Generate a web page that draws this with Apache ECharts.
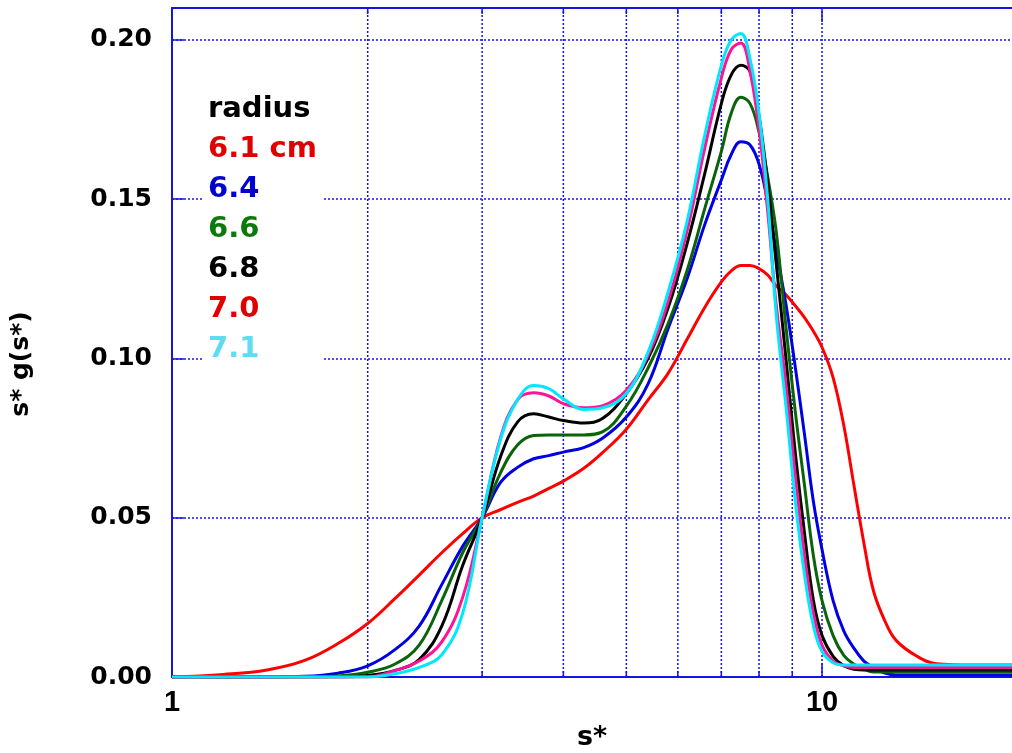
<!DOCTYPE html>
<html><head><meta charset="utf-8">
<script src="https://cdn.jsdelivr.net/npm/echarts@6/dist/echarts.min.js"></script>
<style>html,body{margin:0;padding:0;background:#fff}#c{width:1012px;height:753px}</style>
</head><body><div id="c"></div>
<script>
// s* sample positions (log axis)
const sValues = [1, 1.2, 1.4, 1.6, 1.8, 2, 2.2, 2.4, 2.6, 2.8, 3, 3.2, 3.4, 3.6, 3.8, 4, 4.3, 4.6, 5, 5.4, 5.8, 6.2, 6.6, 7, 7.25, 7.5, 7.75, 8, 8.25, 8.5, 8.8, 9.1, 9.4, 9.7, 10, 10.4, 10.8, 11.2, 11.6, 12, 12.5, 13, 14, 15, 17, 19.6];

const r61 = [0, 0.0008, 0.0022, 0.0052, 0.0105, 0.0168, 0.0245, 0.032, 0.039, 0.045, 0.050, 0.0525, 0.0548, 0.0568, 0.0592, 0.0615, 0.0655, 0.0705, 0.0778, 0.087, 0.0954, 0.106, 0.116, 0.124, 0.1275, 0.1292, 0.1292, 0.1282, 0.1262, 0.1228, 0.120, 0.1165, 0.1128, 0.1085, 0.1035, 0.094, 0.079, 0.060, 0.042, 0.027, 0.0175, 0.0115, 0.0065, 0.0042, 0.0038, 0.0038];
const r64 = [0, 0, 0, 0.0002, 0.0012, 0.0035, 0.0085, 0.016, 0.029, 0.041, 0.050, 0.061, 0.0658, 0.0685, 0.0695, 0.0706, 0.072, 0.075, 0.0816, 0.092, 0.1095, 0.125, 0.142, 0.156, 0.164, 0.168, 0.167, 0.161, 0.149, 0.134, 0.117, 0.097, 0.076, 0.055, 0.040, 0.024, 0.0145, 0.009, 0.005, 0.003, 0.0012, 0.0006, 0.0006, 0.0006, 0.0006, 0.0006];
const r66 = [0, 0, 0, 0, 0.0003, 0.0015, 0.004, 0.010, 0.024, 0.039, 0.050, 0.064, 0.0728, 0.0758, 0.076, 0.076, 0.076, 0.077, 0.085, 0.097, 0.111, 0.1276, 0.147, 0.165, 0.177, 0.182, 0.180, 0.171, 0.157, 0.140, 0.110, 0.083, 0.060, 0.038, 0.024, 0.013, 0.0068, 0.004, 0.0025, 0.0016, 0.0016, 0.0016, 0.0016, 0.0016, 0.0016, 0.0016];
const r68 = [0, 0, 0, 0, 0, 0.0005, 0.002, 0.0055, 0.016, 0.035, 0.050, 0.069, 0.080, 0.0826, 0.0816, 0.0805, 0.0797, 0.0812, 0.089, 0.100, 0.116, 0.136, 0.158, 0.180, 0.189, 0.192, 0.190, 0.176, 0.155, 0.130, 0.100, 0.070, 0.045, 0.024, 0.013, 0.0065, 0.0035, 0.0024, 0.0022, 0.0022, 0.0022, 0.0022, 0.0022, 0.0022, 0.0022, 0.0022];
const r70 = [0, 0, 0, 0, 0, 0, 0.002, 0.005, 0.011, 0.025, 0.050, 0.075, 0.087, 0.0892, 0.0882, 0.0858, 0.0845, 0.0852, 0.090, 0.101, 0.118, 0.140, 0.166, 0.188, 0.197, 0.199, 0.190, 0.172, 0.146, 0.117, 0.092, 0.063, 0.038, 0.020, 0.010, 0.005, 0.0035, 0.003, 0.003, 0.003, 0.003, 0.003, 0.003, 0.003, 0.003, 0.003];
const r71 = [0, 0, 0, 0, 0, 0, 0.001, 0.003, 0.007, 0.020, 0.050, 0.0744, 0.087, 0.0915, 0.0905, 0.0873, 0.0840, 0.0845, 0.089, 0.102, 0.121, 0.143, 0.170, 0.192, 0.200, 0.202, 0.194, 0.177, 0.150, 0.114, 0.085, 0.055, 0.032, 0.016, 0.008, 0.0045, 0.0038, 0.0038, 0.0038, 0.0038, 0.0038, 0.0038, 0.0038, 0.0038, 0.0038, 0.0038];

const seriesNames = ['6.1 cm', '6.4', '6.6', '6.8', '7.0', '7.1'];
const seriesValues = [r61, r64, r66, r68, r70, r71];
const lineColors = ['#ff0000', '#0000e0', '#0a640a', '#000000', '#ff1493', '#00e8ff'];
const labelColors = ['#e00000', '#0000d0', '#0b7a0b', '#000000', '#e00000', '#5edcf2'];
const legendTitle = 'radius';
const yTickValues = [0, 0.05, 0.10, 0.15, 0.20];
const xLabelValues = [1, 10];
const xGridValues = [2, 3, 4, 5, 6, 7, 8, 9, 10];
const X_MIN = 1, X_MAX = 19.6, Y_MIN = 0, Y_MAX = 0.21;

const AX = '#1414e6';
const chart = echarts.init(document.getElementById('c'), null, {renderer: 'canvas'});

const lineSeries = seriesNames.map((n, i) => ({
  name: n, type: 'line', showSymbol: false, symbol: 'none', smooth: 0.4,
  data: sValues.map((s, k) => [s, seriesValues[i][k]]),
  lineStyle: {color: lineColors[i], width: 3}, itemStyle: {color: lineColors[i]},
  z: 3 + i, animation: false
}));

const gridSeries = {
  type: 'custom', silent: true, z: 1, animation: false,
  data: xGridValues.map(v => [v, 0]),
  encode: {x: 0, y: 1},
  renderItem: function (params, api) {
    const v = api.value(0);
    const p0 = api.coord([v, Y_MIN]);
    const p1 = api.coord([v, Y_MAX]);
    const len = v === 10 ? 14 : 6;
    return {type: 'group', children: [
      {type: 'line', shape: {x1: p0[0], y1: p0[1], x2: p1[0], y2: p1[1]}, style: {stroke: AX, lineWidth: 1.5, lineDash: [2, 2]}},
      {type: 'line', shape: {x1: p0[0], y1: p0[1], x2: p0[0], y2: p0[1] - len}, style: {stroke: AX, lineWidth: 1.5}},
      {type: 'line', shape: {x1: p1[0], y1: p1[1], x2: p1[0], y2: p1[1] + len}, style: {stroke: AX, lineWidth: 1.5}}
    ]};
  }
};

const legendTexts = [{t: legendTitle, c: '#000000', y: 109}].concat(
  seriesNames.map((n, i) => ({t: n, c: labelColors[i], y: 149 + i * 40.1})));

const option = {
  backgroundColor: '#ffffff',
  animation: false,
  grid: {left: 172, top: 8, right: 0, bottom: 76, containLabel: false, outerBoundsMode: 'none'},
  xAxis: [{
    type: 'log', logBase: 10, min: X_MIN, max: X_MAX, position: 'bottom',
    axisLine: {show: true, lineStyle: {color: AX, width: 2}},
    axisTick: {show: false},
    splitLine: {show: false},
    axisLabel: {margin: 11, color: '#000', fontFamily: 'Liberation Sans', fontWeight: 'bold', fontSize: 29,
      formatter: v => xLabelValues.some(x => Math.abs(x - v) < 1e-9) ? String(v) : ''},
    name: 's*', nameLocation: 'middle', nameGap: 47,
    nameTextStyle: {color: '#000', fontFamily: 'DejaVu Sans', fontWeight: 'bold', fontSize: 27}
  }, {
    type: 'log', logBase: 10, min: X_MIN, max: X_MAX, position: 'top',
    axisLine: {show: true, lineStyle: {color: AX, width: 2}},
    axisTick: {show: false}, axisLabel: {show: false}, splitLine: {show: false}
  }],
  yAxis: {
    type: 'value', min: Y_MIN, max: Y_MAX, interval: 0.05,
    axisLine: {show: true, lineStyle: {color: AX, width: 2}},
    axisTick: {show: true, inside: true, length: 12, lineStyle: {color: AX, width: 1.5}},
    splitLine: {show: true, lineStyle: {color: AX, width: 1.5, type: [2, 2]}},
    axisLabel: {margin: 20, color: '#000', fontFamily: 'DejaVu Sans', fontWeight: 'bold', fontSize: 25,
      formatter: v => yTickValues.some(y => Math.abs(y - v) < 1e-9) ? v.toFixed(2) : ''}
  },
  series: [gridSeries].concat(lineSeries),
  graphic: [
    {type: 'rect', left: 203, top: 86, shape: {width: 120, height: 282}, style: {fill: '#ffffff'}, z: 50, silent: true},
    {type: 'text', x: 21, y: 364, rotation: Math.PI / 2, z: 60,
      style: {text: 's* g(s*)', fill: '#000', font: 'bold 25px "DejaVu Sans"', align: 'center', verticalAlign: 'middle'}}
  ].concat(legendTexts.map(o => ({
    type: 'text', x: 208, y: o.y, z: 60,
    style: {text: o.t, fill: o.c, font: 'bold 29px "DejaVu Sans"', align: 'left', verticalAlign: 'middle'}
  })))
};
chart.setOption(option);
</script></body></html>
